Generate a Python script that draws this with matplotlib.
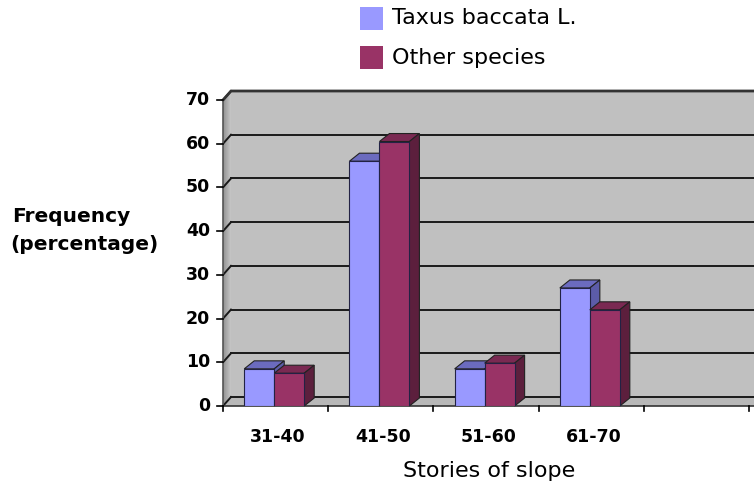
import matplotlib
matplotlib.use("Agg")
import matplotlib.pyplot as plt
from matplotlib.patches import Polygon, Rectangle
import numpy as np

categories = ["31-40", "41-50", "51-60", "61-70"]
taxus = [8.5, 56, 8.5, 27]
other = [7.5, 60.5, 9.8, 22]
yticks = [0, 10, 20, 30, 40, 50, 60, 70]
series_names = ["Taxus baccata L.", "Other species"]

W, H = 754, 487
fig = plt.figure(figsize=(W / 100, H / 100), dpi=100)
ax_left, ax_right = 223, 754
ax_bot, ax_top = 406, 100
ax = fig.add_axes([ax_left / W, (H - ax_bot) / H, (ax_right - ax_left) / W, (ax_bot - ax_top) / H])
n_slots = 5
xmin = -0.5
xmax = xmin + (ax_right - ax_left) / 105.2
ax.set_xlim(xmin, xmax)
ax.set_ylim(0, 70)
ax.axis("off")

pxx = (ax_right - ax_left) / (xmax - xmin)
pxy = (ax_bot - ax_top) / 70.0

def dx(p):
    return p / pxx

def dy(p):
    return p / pxy

# walls
wdx, wdy = dx(8), dy(9)
back = Polygon([(xmin + wdx, wdy), (xmax + 1, wdy), (xmax + 1, 70 + wdy), (xmin + wdx, 70 + wdy)],
               closed=True, facecolor="#C0C0C0", edgecolor="none", zorder=1, clip_on=False)
ax.add_patch(back)
nstrip = 12
for k in range(nstrip):
    f0, f1 = k / nstrip, (k + 1) / nstrip
    g = 0.45 + 0.28 * f0
    ax.add_patch(Polygon([(xmin + wdx * f0, wdy * f0), (xmin + wdx * f1, wdy * f1),
                          (xmin + wdx * f1, 70 + wdy * f1), (xmin + wdx * f0, 70 + wdy * f0)],
                         closed=True, facecolor=(g, g, g), edgecolor="none", zorder=1, clip_on=False))
ax.add_patch(Polygon([(xmin, 0), (xmin + wdx, wdy), (xmax + 1, wdy), (xmax + 1, 0)],
                     closed=True, facecolor="#B8B8B8", edgecolor="none", zorder=1.5, clip_on=False))

for v in yticks:
    ax.plot([xmin, xmin + wdx], [v, v + wdy], color="#1a1a1a", lw=1.4, zorder=2, clip_on=False)
    ax.plot([xmin + wdx, xmax + 1], [v + wdy, v + wdy], color="#1a1a1a", lw=1.4, zorder=2, clip_on=False)
    ax.plot([xmin - dx(6), xmin], [v, v], color="black", lw=1.2, zorder=3, clip_on=False)
    ax.text(xmin - dx(13), v, str(v), ha="right", va="center", fontsize=12.5,
            fontweight="bold", family="DejaVu Sans", color="black")
ax.plot([xmin, xmin + wdx, xmax + 1], [70, 70 + wdy, 70 + wdy], color="#333333", lw=2, zorder=2.5, clip_on=False)
ax.plot([xmin, xmin], [0, 70], color="#555555", lw=1.2, zorder=2.5, clip_on=False)
ax.plot([xmin, xmax + 1], [0, 0], color="#333333", lw=1.2, zorder=2.5, clip_on=False)
for i in range(n_slots + 1):
    xt = xmin + i
    ax.plot([xt, xt], [0, -dy(5)], color="black", lw=1.2, zorder=3, clip_on=False)

# bars
bw = 0.285
bdx, bdy = dx(10), dy(8)
colors = {
    0: ("#9999FF", "#6B6BBF", "#5C5CA8"),
    1: ("#993366", "#7A2952", "#5C1F3D"),
}
xs = np.arange(len(categories)) - 0.013
for s, vals in enumerate([taxus, other]):
    front, top, side = colors[s]
    x0s = xs - bw + s * bw
    ax.bar(x0s, vals, width=bw, align="edge", color=front, edgecolor="#222244", lw=0.8, zorder=5 + 2 * s)
    for x0, v in zip(x0s, vals):
        x1 = x0 + bw
        ax.add_patch(Polygon([(x0, v), (x0 + bdx, v + bdy), (x1 + bdx, v + bdy), (x1, v)], closed=True,
                             facecolor=top, edgecolor="#222222", lw=0.8, zorder=4 + 2 * s, clip_on=False))
        ax.add_patch(Polygon([(x1, 0), (x1 + bdx, bdy), (x1 + bdx, v + bdy), (x1, v)], closed=True,
                             facecolor=side, edgecolor="#222222", lw=0.8, zorder=4 + 2 * s, clip_on=False))

for i, c in enumerate(categories):
    ax.text(i + 0.02, -dy(31), c, ha="center", va="center", fontsize=12.5, fontweight="bold")

fig.text(489 / W, 1 - 471 / H, "Stories of slope", ha="center", va="center", fontsize=16)
fig.text(12 / W, 1 - 216 / H, "Frequency", ha="left", va="center", fontsize=14.5, fontweight="bold")
fig.text(10 / W, 1 - 245 / H, "(percentage)", ha="left", va="center", fontsize=14.5, fontweight="bold")

# legend
for k, (name, y) in enumerate(zip(series_names, [18.5, 57.5])):
    col = colors[k][0]
    fig.patches.append(Rectangle((360 / W, 1 - (y + 11.5) / H), 23 / W, 23 / H,
                                 transform=fig.transFigure, facecolor=col, edgecolor="none"))
    fig.text(392 / W, 1 - y / H, name, ha="left", va="center", fontsize=16)

fig.savefig("out.png", dpi=100)
